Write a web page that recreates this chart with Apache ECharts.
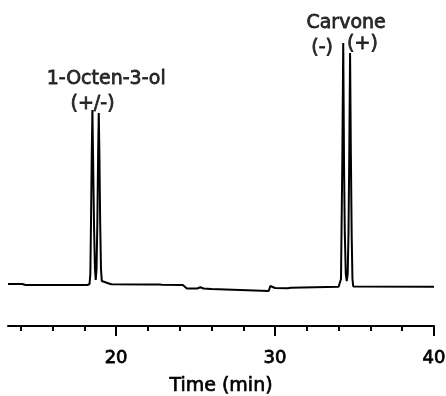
<!DOCTYPE html>
<html>
<head>
<meta charset="utf-8">
<script src="https://cdn.jsdelivr.net/npm/echarts@6/dist/echarts.min.js"></script>
<style>
  html, body { margin: 0; padding: 0; background: #fff; }
  #chart { width: 446px; height: 396px; }
</style>
</head>
<body>
<div id="chart"></div>
<script>
// retention time (min) and detector signal (arbitrary units, baseline = 0)
const timeMin = [
  13.2, 13.9, 14.0, 14.1, 14.3, 18.2,
  // 1-octen-3-ol (+/-)
  18.33, 18.38, 18.42, 18.47, 18.51, 18.55, 18.61, 18.67, 18.72, 18.77, 18.82, 18.87, 18.91, 18.95, 19.00, 19.05, 19.10,
  19.15, 19.5, 19.7, 21.8, 21.9, 22.0, 22.3, 22.4, 22.5, 22.7, 22.8, 22.9,
  24.2, 24.45, 25.1, 25.3, 25.5, 26.0, 26.1, 29.6, 29.7, 29.85, 30.0, 30.8, 31.0, 34.0, 34.1,
  // carvone (-) / (+)
  34.15, 34.18, 34.23, 34.29, 34.34, 34.39, 34.45, 34.51, 34.57, 34.62, 34.67, 34.72, 34.77, 34.82, 34.87, 34.92,
  40.0
];
const signal = [
  0, 0, 1.7, 0, -1, -1,
  0, 10, 60, 130, 174, 130, 60, 15, 4, 15, 60, 130, 171, 130, 60, 15, 3,
  1.7, 0.8, -0.3, -0.5, 1.2, -0.6, -0.6, 1.2, -0.6, -0.6, 1.0, -0.8,
  -1, -4.5, -4.5, -3.3, -4.5, -5, -7, -7, -2, -3, -4, -4.2, -3.7, -2.7, -2.5,
  5, 50, 120, 241, 120, 50, 10, 3, 10, 50, 130, 231, 130, 50, 5, -2.5,
  -2.7
];

const minorTicks = [14, 16, 18, 20, 22, 24, 26, 28, 30, 32, 34, 36, 38, 40];
const majorTicks = [20, 30, 40];

// peak annotations
const annoText = ['1-Octen-3-ol', '(+/-)', 'Carvone', '(-)', '(+)'];
const annoX = [19.41, 18.55, 34.5, 32.99, 35.53];
const annoY = [204, 179, 260, 235, 239];

const traceData = timeMin.map((t, i) => [t, signal[i]]);
const annoData = annoText.map((s, i) => ({ value: [annoX[i], annoY[i]], name: s }));

const font = 'DejaVu Sans';
const ink = '#000';
const chart = echarts.init(document.getElementById('chart'));

chart.setOption({
  animation: false,
  grid: { left: 8, right: 12, top: 10, bottom: 70, containLabel: false, outerBoundsMode: 'none' },
  xAxis: [
    {
      type: 'value',
      min: 13.2,
      max: 40,
      position: 'bottom',
      axisLine: { show: true, onZero: false, lineStyle: { color: ink, width: 2 } },
      axisTick: { show: true, customValues: minorTicks, length: 5, lineStyle: { color: ink, width: 2 } },
      axisLabel: { show: false },
      splitLine: { show: false }
    },
    {
      type: 'value',
      min: 13.2,
      max: 40,
      position: 'bottom',
      axisLine: { show: false, onZero: false },
      axisTick: { show: true, customValues: majorTicks, length: 10, lineStyle: { color: ink, width: 2 } },
      axisLabel: {
        show: true, customValues: majorTicks, margin: 23,
        color: ink, fontFamily: font, fontSize: 18,
        textBorderColor: ink, textBorderWidth: 0.8
      },
      splitLine: { show: false },
      name: 'Time (min)',
      nameLocation: 'middle',
      nameGap: 51,
      nameTextStyle: { color: ink, fontFamily: font, fontSize: 19, textBorderColor: ink, textBorderWidth: 0.7 }
    }
  ],
  yAxis: {
    type: 'value',
    min: -42,
    max: 274,
    show: false
  },
  series: [
    {
      name: 'signal',
      type: 'line',
      data: traceData,
      showSymbol: false,
      symbol: 'none',
      silent: true,
      lineStyle: { color: ink, width: 2 }
    },
    {
      name: 'labels',
      type: 'scatter',
      data: annoData,
      symbolSize: 1,
      silent: true,
      itemStyle: { color: 'transparent' },
      label: {
        show: true,
        position: [0, 0],
        align: 'center',
        verticalAlign: 'middle',
        formatter: p => p.name,
        color: ink,
        fontFamily: font,
        fontSize: 19,
        textBorderColor: ink,
        textBorderWidth: 0.8
      }
    }
  ]
});
</script>
</body>
</html>
